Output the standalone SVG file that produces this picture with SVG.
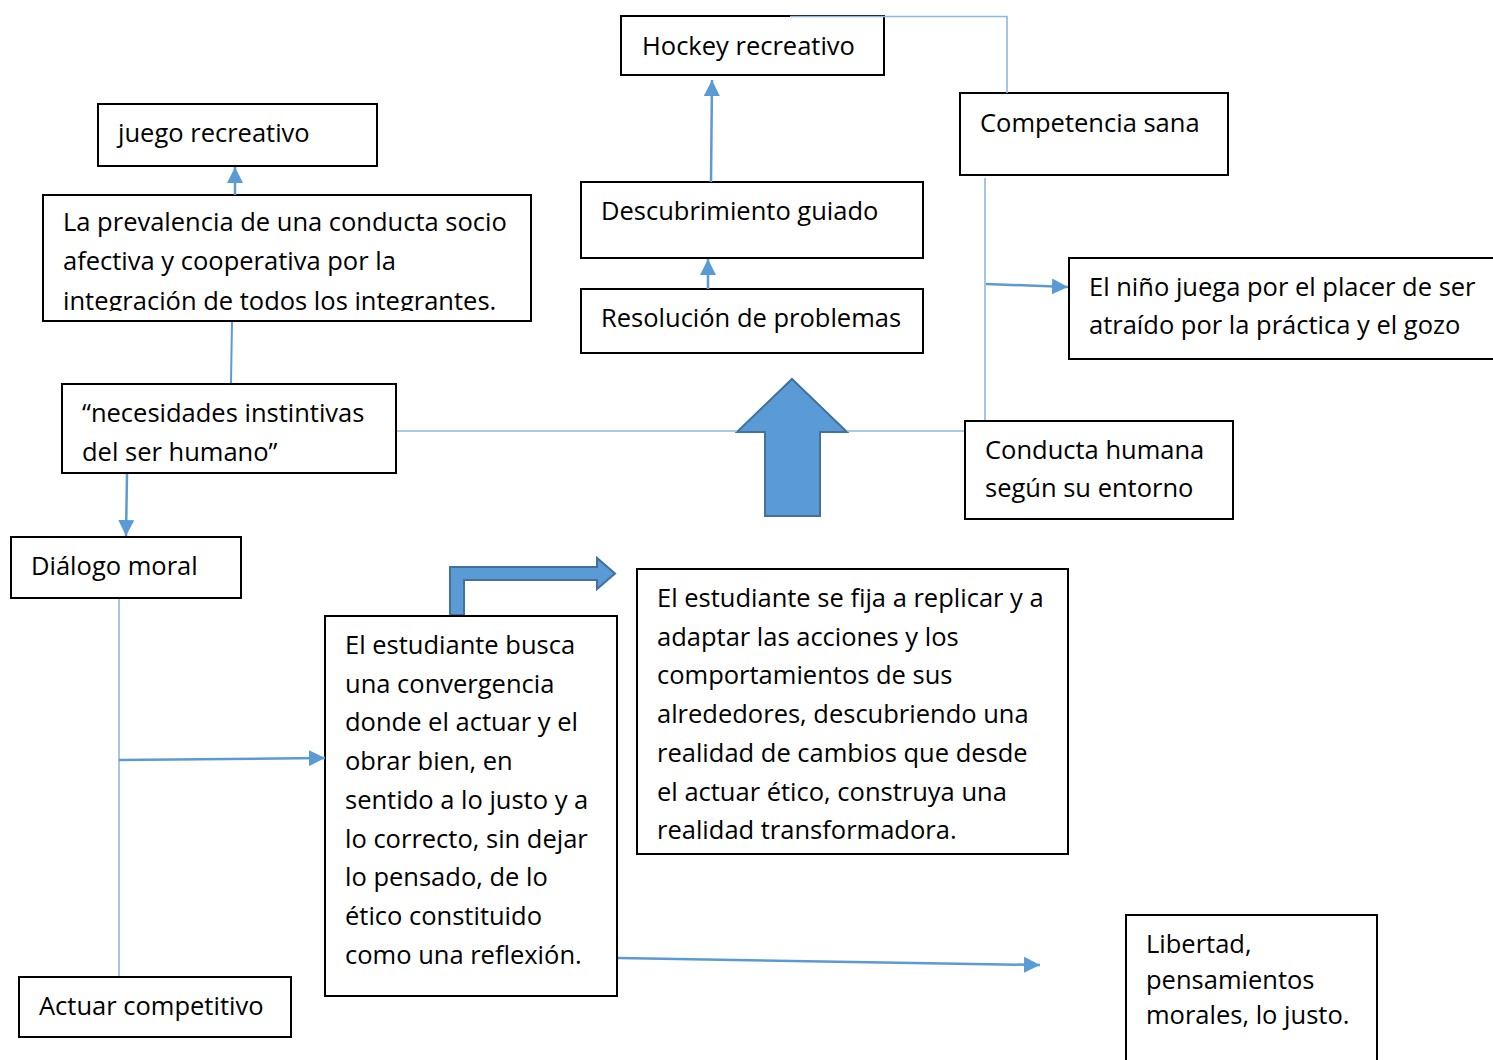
<svg xmlns="http://www.w3.org/2000/svg" width="1493" height="1060" viewBox="0 0 1493 1060">
<style>
  .box { fill: #ffffff; stroke: #000000; stroke-width: 2; }
  .t { font-family: "Open Sans", "Liberation Sans", sans-serif; font-size: 25.5px; fill: #000000; }
  .thin { fill: none; stroke: #8fb7e3; stroke-width: 1.6; }
  .mid { fill: none; stroke: #5b9bd5; stroke-width: 2; }
  .arr { fill: none; stroke: #5b9bd5; stroke-width: 2.5; marker-end: url(#head); }
  .big { fill: #5b9bd5; stroke: #41719c; stroke-width: 2; }
</style>
<defs>
  <marker id="head" markerUnits="userSpaceOnUse" markerWidth="16" markerHeight="16" refX="16" refY="8" orient="auto">
    <path d="M0,0 L16,8 L0,16 z" fill="#5b9bd5"/>
  </marker>
  <clipPath id="clipPrev"><rect x="43" y="195" width="488" height="116"/></clipPath>
</defs>
<rect width="1493" height="1060" fill="#ffffff"/>

<g id="big-up-arrow">
  <polygon class="big" points="792,379 847,432 820,432 820,516 765,516 765,432 737,432"/>
</g>
<g id="bent-arrow">
  <polygon class="big" points="450,615 450,567 597,567 597,558 615,573.5 597,589 597,580 464,580 464,615"/>
</g>

<g id="hockey">
  <rect class="box" x="621" y="16" width="263" height="59"/>
  <text class="t" x="642" y="55">Hockey recreativo</text>
</g>
<g id="competencia">
  <rect class="box" x="960" y="93" width="268" height="82"/>
  <text class="t" x="980" y="132">Competencia sana</text>
</g>
<g id="juego">
  <rect class="box" x="98" y="104" width="279" height="62"/>
  <text class="t" x="118" y="142">juego recreativo</text>
</g>
<g id="prevalencia">
  <rect class="box" x="43" y="195" width="488" height="126"/>
  <g clip-path="url(#clipPrev)">
    <text class="t" x="63" y="231">La prevalencia de una conducta socio</text>
    <text class="t" x="63" y="270">afectiva y cooperativa por la</text>
    <text class="t" x="63" y="310">integración de todos los integrantes.</text>
  </g>
</g>
<g id="descubrimiento">
  <rect class="box" x="581" y="182" width="342" height="76"/>
  <text class="t" x="601" y="220">Descubrimiento guiado</text>
</g>
<g id="resolucion">
  <rect class="box" x="581" y="289" width="342" height="64"/>
  <text class="t" x="601" y="327">Resolución de problemas</text>
</g>
<g id="nino">
  <rect class="box" x="1069" y="258" width="430" height="101"/>
  <text class="t" x="1089" y="296">El niño juega por el placer de ser</text>
  <text class="t" x="1089" y="334">atraído por la práctica y el gozo</text>
</g>
<g id="necesidades">
  <rect class="box" x="62" y="384" width="334" height="89"/>
  <text class="t" x="82" y="422">“necesidades instintivas</text>
  <text class="t" x="82" y="461">del ser humano”</text>
</g>
<g id="conducta">
  <rect class="box" x="965" y="421" width="268" height="98"/>
  <text class="t" x="985" y="459">Conducta humana</text>
  <text class="t" x="985" y="497">según su entorno</text>
</g>
<g id="dialogo">
  <rect class="box" x="11" y="537" width="230" height="61"/>
  <text class="t" x="31" y="575">Diálogo moral</text>
</g>
<g id="estudiante-busca">
  <rect class="box" x="325" y="616" width="292" height="380"/>
  <text class="t" x="345" y="654">El estudiante busca</text>
  <text class="t" x="345" y="692.7">una convergencia</text>
  <text class="t" x="345" y="731.4">donde el actuar y el</text>
  <text class="t" x="345" y="770.1">obrar bien, en</text>
  <text class="t" x="345" y="808.8">sentido a lo justo y a</text>
  <text class="t" x="345" y="847.5">lo correcto, sin dejar</text>
  <text class="t" x="345" y="886.2">lo pensado, de lo</text>
  <text class="t" x="345" y="924.9">ético constituido</text>
  <text class="t" x="345" y="963.6">como una reflexión.</text>
</g>
<g id="estudiante-fija">
  <rect class="box" x="637" y="569" width="431" height="285"/>
  <text class="t" x="657" y="607">El estudiante se fija a replicar y a</text>
  <text class="t" x="657" y="645.7">adaptar las acciones y los</text>
  <text class="t" x="657" y="684.4">comportamientos de sus</text>
  <text class="t" x="657" y="723.1">alrededores, descubriendo una</text>
  <text class="t" x="657" y="761.8">realidad de cambios que desde</text>
  <text class="t" x="657" y="800.5">el actuar ético, construya una</text>
  <text class="t" x="657" y="839.2">realidad transformadora.</text>
</g>
<g id="actuar">
  <rect class="box" x="19" y="977" width="272" height="60"/>
  <text class="t" x="39" y="1015">Actuar competitivo</text>
</g>
<g id="libertad">
  <rect class="box" x="1126" y="915" width="251" height="160"/>
  <text class="t" x="1146" y="953">Libertad,</text>
  <text class="t" x="1146" y="988.5">pensamientos</text>
  <text class="t" x="1146" y="1024">morales, lo justo.</text>
</g>

<g id="connectors">
  <polyline class="thin" points="790,16.5 1007,16.5 1007,93"/>
  <line class="arr" x1="711" y1="182" x2="712" y2="80"/>
  <line class="arr" x1="708" y1="289" x2="708" y2="259"/>
  <line class="arr" x1="235" y1="195" x2="235" y2="167"/>
  <line class="mid" x1="231" y1="383" x2="232" y2="322"/>
  <line class="thin" x1="397" y1="431" x2="737" y2="431"/>
  <line class="thin" x1="847" y1="431" x2="964" y2="431"/>
  <line class="thin" x1="985" y1="178" x2="985" y2="420"/>
  <line class="arr" x1="986" y1="284" x2="1068" y2="287"/>
  <line class="arr" x1="127" y1="474" x2="126" y2="536"/>
  <line class="thin" x1="119" y1="599" x2="119" y2="976"/>
  <line class="arr" x1="119" y1="760" x2="325" y2="758"/>
  <line class="arr" x1="618" y1="958" x2="1040" y2="965"/>
</g>
</svg>
